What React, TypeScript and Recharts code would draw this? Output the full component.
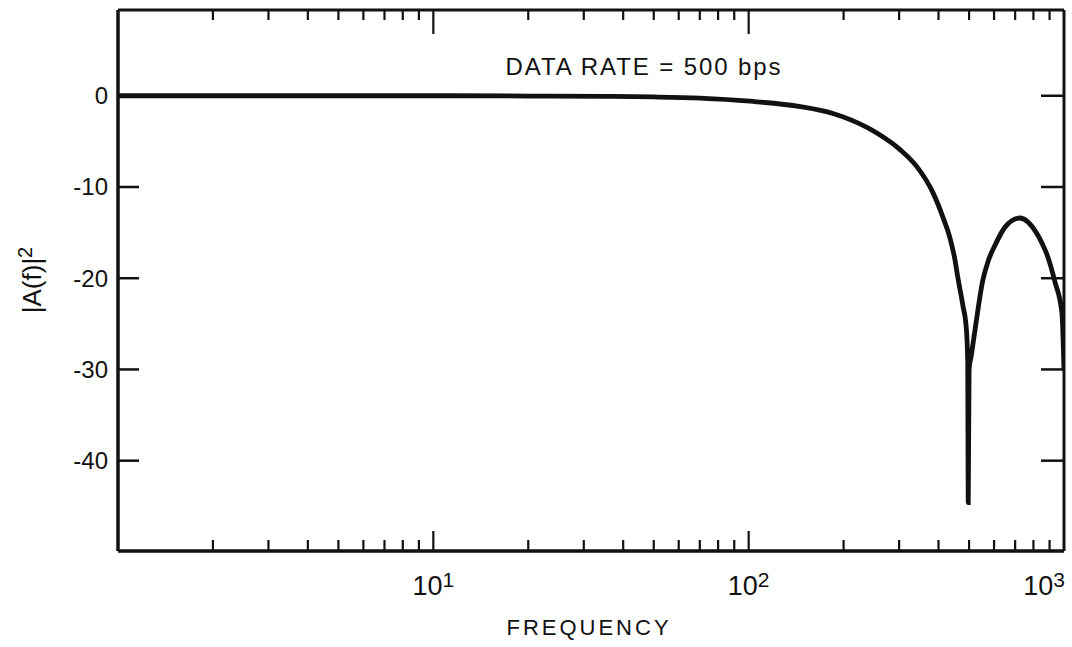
import { LineChart, Line, XAxis, YAxis } from 'recharts';

// frequency (Hz) and |A(f)|^2 (dB)
const freqs = [1, 3, 10, 20, 35, 50, 70, 101, 146, 185, 238, 261, 302, 342, 385, 413, 435, 450, 461, 478, 490, 495, 497, 500, 508, 522, 553, 575, 604, 650, 724, 820, 850, 883, 936, 985, 1000];
const gainDb = [0, 0, 0, -0.03, -0.07, -0.13, -0.26, -0.6, -1.2, -1.95, -3.5, -4.3, -5.9, -7.8, -10.7, -13.3, -15.6, -17.8, -20, -23, -25.5, -29, -44.6, -30, -28.5, -25.7, -20.2, -18.1, -16.4, -14.4, -13.4, -15.1, -16.1, -17.4, -20.4, -23.8, -30.1];

const xTicks = [1, 2, 3, 4, 5, 6, 7, 8, 9, 10, 20, 30, 40, 50, 60, 70, 80, 90, 100, 200, 300, 400, 500, 600, 700, 800, 900, 1000];
const xMajor: Record<number, string> = { 10: '1', 100: '2', 1000: '3' };
const yTicks = [-40, -30, -20, -10, 0];

const data = freqs.map((f, i) => ({ f, db: gainDb[i] }));

const FONT = '"Liberation Sans", Arial, Helvetica, sans-serif';
const INK = '#111';

const BottomTick = (props: any) => {
  const { x, y, payload } = props;
  const v = payload.value;
  const exp = xMajor[v];
  const edge = v === 1 || v === 1000;
  return (
    <g>
      {!edge && (
        <line x1={x} y1={y} x2={x} y2={y - (exp ? 20 : 11)} stroke={INK} strokeWidth={2.2} />
      )}
      {exp && (
        <text
          x={v === 1000 ? x + 1 : x}
          y={y + 44}
          textAnchor={v === 1000 ? 'end' : 'middle'}
          fontFamily={FONT}
          fontSize={27}
          fill={INK}
        >
          10
          <tspan dy={-8} fontSize={21}>{exp}</tspan>
        </text>
      )}
    </g>
  );
};

const TopTick = (props: any) => {
  const { x, y, payload } = props;
  const v = payload.value;
  if (v === 1 || v === 1000) return <g />;
  const major = !!xMajor[v];
  return <line x1={x} y1={y} x2={x} y2={y + (major ? 24 : 10)} stroke={INK} strokeWidth={2.2} />;
};

const LeftTick = (props: any) => {
  const { x, y, payload } = props;
  return (
    <g>
      <line x1={x} y1={y} x2={x + 21} y2={y} stroke={INK} strokeWidth={2.5} />
      <text x={x - 10} y={y + 8.5} textAnchor="end" fontFamily={FONT} fontSize={24} fill={INK}>
        {payload.value}
      </text>
    </g>
  );
};

const RightTick = (props: any) => {
  const { x, y } = props;
  return <line x1={x} y1={y} x2={x - 23} y2={y} stroke={INK} strokeWidth={2.5} />;
};

export default function App() {
  return (
    <div style={{ position: 'absolute', left: 0, top: 0, width: 1072, height: 647, background: '#fff' }}>
      <LineChart width={1072} height={647} data={data} margin={{ top: 0, right: 0, bottom: 0, left: 0 }}>
        <XAxis
          dataKey="f"
          type="number"
          scale="log"
          domain={[1, 1000]}
          allowDataOverflow
          ticks={xTicks}
          interval={0}
          height={96}
          tickSize={0}
          tickMargin={0}
          tickLine={false}
          tick={<BottomTick />}
          axisLine={{ stroke: INK, strokeWidth: 3.5 }}
        />
        <XAxis
          xAxisId="top"
          orientation="top"
          dataKey="f"
          type="number"
          scale="log"
          domain={[1, 1000]}
          allowDataOverflow
          ticks={xTicks}
          interval={0}
          height={10}
          tickSize={0}
          tickMargin={0}
          tickLine={false}
          tick={<TopTick />}
          axisLine={{ stroke: INK, strokeWidth: 3 }}
        />
        <YAxis
          type="number"
          domain={[-49.9, 9.4]}
          allowDataOverflow
          ticks={yTicks}
          interval={0}
          width={118}
          tickSize={0}
          tickMargin={0}
          tickLine={false}
          tick={<LeftTick />}
          axisLine={{ stroke: INK, strokeWidth: 3.5 }}
        />
        <YAxis
          yAxisId="right"
          orientation="right"
          type="number"
          domain={[-49.9, 9.4]}
          allowDataOverflow
          ticks={yTicks}
          interval={0}
          width={8}
          tickSize={0}
          tickMargin={0}
          tickLine={false}
          tick={<RightTick />}
          axisLine={{ stroke: INK, strokeWidth: 3 }}
        />
        <Line
          type="monotone"
          dataKey="db"
          stroke={INK}
          strokeWidth={4.8}
          dot={false}
          isAnimationActive={false}
        />
      </LineChart>
      <svg width={1072} height={647} style={{ position: 'absolute', left: 0, top: 0, pointerEvents: 'none' }}>
        <text x={644} y={75} textAnchor="middle" fontFamily={FONT} fontSize={24} letterSpacing={1.9} fill={INK}>
          DATA RATE = 500 bps
        </text>
        <text x={589} y={635} textAnchor="middle" fontFamily={FONT} fontSize={22} letterSpacing={3} fill={INK}>
          FREQUENCY
        </text>
        <text
          transform="translate(41, 280) rotate(-90)"
          textAnchor="middle"
          fontFamily={FONT}
          fontSize={26}
          fill={INK}
        >
          |A(f)|
          <tspan dy={-9} fontSize={20}>2</tspan>
        </text>
      </svg>
    </div>
  );
}
